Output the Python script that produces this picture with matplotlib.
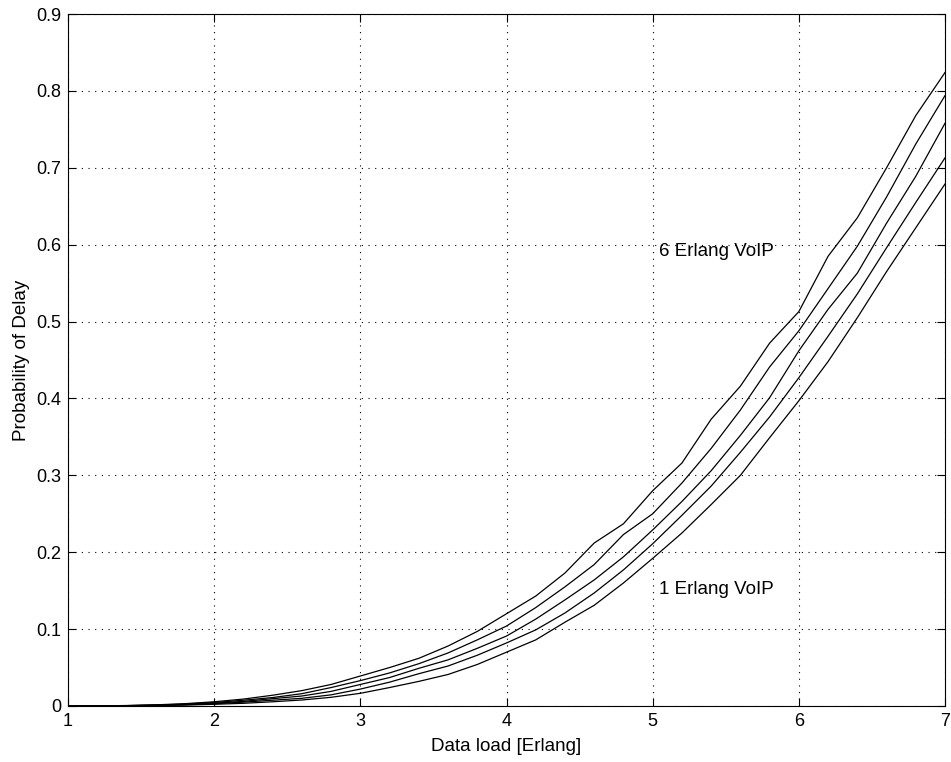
import numpy as np
import matplotlib
matplotlib.use("Agg")
import matplotlib.pyplot as plt

plt.rcParams['font.family'] = ['Liberation Sans', 'DejaVu Sans']

# Data load [Erlang], sampled every 0.2 Erlang
data_load = [1.0, 1.2, 1.4, 1.6, 1.8, 2.0, 2.2, 2.4, 2.6, 2.8, 3.0,
             3.2, 3.4, 3.6, 3.8, 4.0, 4.2, 4.4, 4.6, 4.8, 5.0,
             5.2, 5.4, 5.6, 5.8, 6.0, 6.2, 6.4, 6.6, 6.8, 7.0]

# Probability of delay for increasing VoIP load (1 ... 6 Erlang, lowest to highest)
p_voip_low = [0.0, 0.0001, 0.0002, 0.0006, 0.0012, 0.0022, 0.0035, 0.0055, 0.0078, 0.0113, 0.0165,
              0.024, 0.032, 0.041, 0.054, 0.070, 0.086, 0.109, 0.131, 0.160, 0.192,
              0.225, 0.262, 0.300, 0.349, 0.397, 0.448, 0.505, 0.565, 0.622, 0.679]
p_voip_2 = [0.0, 0.0001, 0.0003, 0.0008, 0.0016, 0.003, 0.005, 0.0075, 0.010, 0.0145, 0.022,
            0.031, 0.042, 0.052, 0.066, 0.082, 0.099, 0.121, 0.147, 0.177, 0.211,
            0.248, 0.286, 0.330, 0.376, 0.427, 0.481, 0.536, 0.596, 0.655, 0.713]
p_voip_3 = [0.0, 0.0001, 0.0004, 0.001, 0.002, 0.0035, 0.006, 0.0095, 0.013, 0.019, 0.028,
            0.037, 0.049, 0.060, 0.075, 0.091, 0.113, 0.138, 0.164, 0.194, 0.229,
            0.266, 0.306, 0.352, 0.401, 0.462, 0.516, 0.563, 0.628, 0.689, 0.758]
p_voip_4 = [0.0, 0.0001, 0.0005, 0.0012, 0.0025, 0.0045, 0.0075, 0.011, 0.016, 0.024, 0.033,
            0.043, 0.055, 0.069, 0.086, 0.104, 0.128, 0.155, 0.184, 0.223, 0.250,
            0.290, 0.335, 0.385, 0.441, 0.488, 0.543, 0.598, 0.662, 0.731, 0.794]
p_voip_high = [0.0, 0.0002, 0.0006, 0.0015, 0.003, 0.0055, 0.009, 0.014, 0.020, 0.028, 0.039,
               0.050, 0.062, 0.078, 0.097, 0.120, 0.143, 0.173, 0.212, 0.237, 0.280,
               0.316, 0.373, 0.416, 0.472, 0.513, 0.585, 0.635, 0.700, 0.768, 0.824]

series = [p_voip_low, p_voip_2, p_voip_3, p_voip_4, p_voip_high]

x_ticks = [1, 2, 3, 4, 5, 6, 7]
y_ticks = [0, 0.1, 0.2, 0.3, 0.4, 0.5, 0.6, 0.7, 0.8, 0.9]
y_tick_labels = ['0', '0.1', '0.2', '0.3', '0.4', '0.5', '0.6', '0.7', '0.8', '0.9']

fig = plt.figure(figsize=(9.51, 7.62), dpi=100)
ax = fig.add_axes([0.0715, 0.0735, 0.9222, 0.908])

for s in series:
    ax.plot(data_load, s, color='black', linewidth=0.9)

ax.set_xlim(1, 7)
ax.set_ylim(0, 0.9)
ax.set_xticks(x_ticks)
ax.set_yticks(y_ticks)
ax.set_yticklabels(y_tick_labels)
ax.tick_params(direction='in', length=6, width=0.8, top=True, right=True,
               labelsize=13, colors='black', pad=5)
ax.grid(True, linestyle=(0, (1, 5)), color='black', linewidth=0.8)
for sp in ax.spines.values():
    sp.set_linewidth(0.8)

ax.set_xlabel('Data load [Erlang]', fontsize=13.5, labelpad=6)
ax.set_ylabel('Probability of Delay', fontsize=13.5, labelpad=4)

ax.text(5.04, 0.591, '6 Erlang VoIP', fontsize=13.5, ha='left', va='center')
ax.text(5.04, 0.151, '1 Erlang VoIP', fontsize=13.5, ha='left', va='center')

fig.savefig('out.png', dpi=100)
